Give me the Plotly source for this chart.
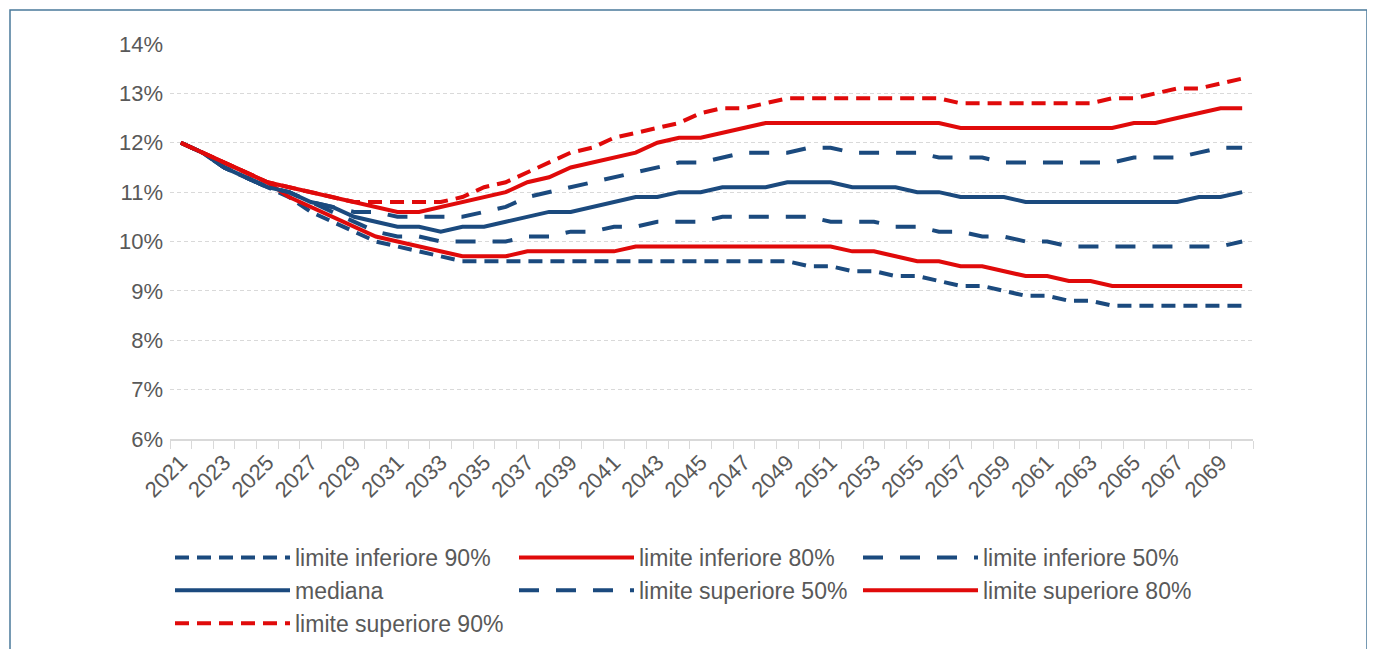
import plotly.graph_objects as go

years = list(range(2021, 2071))
tick_years = list(range(2021, 2070, 2))
y_ticks = [6, 7, 8, 9, 10, 11, 12, 13, 14]

limite_inferiore_90 = [12.0, 11.8, 11.5, 11.3, 11.1, 10.9, 10.6, 10.4, 10.2, 10.0, 9.9, 9.8, 9.7, 9.6, 9.6,
                       9.6, 9.6, 9.6, 9.6, 9.6, 9.6, 9.6, 9.6, 9.6, 9.6, 9.6, 9.6, 9.6, 9.6,
                       9.5, 9.5, 9.4, 9.4, 9.3, 9.3, 9.2, 9.1, 9.1, 9.0, 8.9, 8.9, 8.8, 8.8,
                       8.7, 8.7, 8.7, 8.7, 8.7, 8.7, 8.7]
limite_inferiore_80 = [12.0, 11.8, 11.6, 11.4, 11.2, 10.9, 10.7, 10.5, 10.3, 10.1, 10.0, 9.9, 9.8, 9.7, 9.7,
                       9.7, 9.8, 9.8, 9.8, 9.8, 9.8,
                       9.9, 9.9, 9.9, 9.9, 9.9, 9.9, 9.9, 9.9, 9.9, 9.9,
                       9.8, 9.8, 9.7, 9.6, 9.6, 9.5, 9.5, 9.4, 9.3, 9.3, 9.2, 9.2,
                       9.1, 9.1, 9.1, 9.1, 9.1, 9.1, 9.1]
limite_inferiore_50 = [12.0, 11.8, 11.5, 11.3, 11.1, 11.0, 10.8, 10.6, 10.4, 10.2, 10.1, 10.1, 10.0, 10.0, 10.0,
                       10.0, 10.1, 10.1, 10.2, 10.2, 10.3, 10.3, 10.4, 10.4, 10.4, 10.5, 10.5, 10.5, 10.5, 10.5,
                       10.4, 10.4, 10.4, 10.3, 10.3, 10.2, 10.2, 10.1, 10.1, 10.0, 10.0,
                       9.9, 9.9, 9.9, 9.9, 9.9, 9.9, 9.9, 9.9, 10.0]
mediana = [12.0, 11.8, 11.5, 11.3, 11.1, 11.0, 10.8, 10.7, 10.5, 10.4, 10.3, 10.3, 10.2, 10.3, 10.3,
           10.4, 10.5, 10.6, 10.6, 10.7, 10.8, 10.9, 10.9, 11.0, 11.0, 11.1, 11.1, 11.1, 11.2, 11.2,
           11.2, 11.1, 11.1, 11.1, 11.0, 11.0, 10.9, 10.9, 10.9,
           10.8, 10.8, 10.8, 10.8, 10.8, 10.8, 10.8, 10.8, 10.9, 10.9, 11.0]
limite_superiore_50 = [12.0, 11.8, 11.5, 11.3, 11.1, 11.0, 10.8, 10.7, 10.6, 10.6, 10.5, 10.5, 10.5, 10.5, 10.6,
                       10.7, 10.9, 11.0, 11.1, 11.2, 11.3, 11.4, 11.5, 11.6, 11.6, 11.7, 11.8, 11.8, 11.8,
                       11.9, 11.9, 11.8, 11.8, 11.8, 11.8, 11.7, 11.7, 11.7,
                       11.6, 11.6, 11.6, 11.6, 11.6, 11.6,
                       11.7, 11.7, 11.7, 11.8, 11.9, 11.9]
limite_superiore_80 = [12.0, 11.8, 11.6, 11.4, 11.2, 11.1, 11.0, 10.9, 10.8, 10.7, 10.6, 10.6, 10.7, 10.8, 10.9,
                       11.0, 11.2, 11.3, 11.5, 11.6, 11.7, 11.8, 12.0, 12.1, 12.1, 12.2, 12.3,
                       12.4, 12.4, 12.4, 12.4, 12.4, 12.4, 12.4, 12.4, 12.4,
                       12.3, 12.3, 12.3, 12.3, 12.3, 12.3, 12.3, 12.3,
                       12.4, 12.4, 12.5, 12.6, 12.7, 12.7]
limite_superiore_90 = [12.0, 11.8, 11.6, 11.4, 11.2, 11.1, 11.0, 10.9, 10.8, 10.8, 10.8, 10.8, 10.8, 10.9, 11.1,
                       11.2, 11.4, 11.6, 11.8, 11.9, 12.1, 12.2, 12.3, 12.4, 12.6, 12.7, 12.7, 12.8,
                       12.9, 12.9, 12.9, 12.9, 12.9, 12.9, 12.9, 12.9,
                       12.8, 12.8, 12.8, 12.8, 12.8, 12.8, 12.8,
                       12.9, 12.9, 13.0, 13.1, 13.1, 13.2, 13.3]

BLUE = "#1B4A7E"
RED = "#E00A0A"
GREY = "#595959"
SHORT = "14px,8px"
LONG = "20px,17px"
FONT = "Liberation Sans, Arial, sans-serif"

series = [
    ("limite inferiore 90%", limite_inferiore_90, BLUE, SHORT),
    ("limite inferiore 80%", limite_inferiore_80, RED, "solid"),
    ("limite inferiore 50%", limite_inferiore_50, BLUE, LONG),
    ("mediana", mediana, BLUE, "solid"),
    ("limite superiore 50%", limite_superiore_50, BLUE, LONG),
    ("limite superiore 80%", limite_superiore_80, RED, "solid"),
    ("limite superiore 90%", limite_superiore_90, RED, SHORT),
]

fig = go.Figure()
for name, vals, color, dash in series:
    fig.add_trace(go.Scatter(x=years, y=vals, name=name, mode="lines",
                             line=dict(color=color, width=4, dash=dash)))

# page has an 8px body margin, so figure coordinates = page coordinates - 8
OFF = 8
W, H = 1375, 649
L, R, T, B = 170 - OFF, 122 + OFF, 44 - OFF, 210 + OFF
pw, ph = W - L - R, H - T - B


def px_x(p):
    return (p - OFF - L) / pw


def px_y(p):
    return (H - B - (p - OFF)) / ph


fig.update_layout(
    width=W, height=H,
    margin=dict(l=L, r=R, t=T, b=B, autoexpand=False),
    paper_bgcolor="white", plot_bgcolor="white",
    font=dict(family=FONT, size=22, color=GREY),
    showlegend=True,
    legend=dict(orientation="h", x=0, xanchor="left", y=px_y(536), yanchor="top",
                itemwidth=115, entrywidth=214, font=dict(size=23, color=GREY),
                bgcolor="rgba(0,0,0,0)", borderwidth=0, traceorder="normal"),
    xaxis=dict(range=[2020.5, 2070.5], tickmode="array", tickvals=tick_years,
               ticktext=[str(y) for y in tick_years], tickangle=-45,
               showgrid=False, zeroline=False, showline=True, linecolor="#D9D9D9", linewidth=2,
               ticks="", tickfont=dict(size=22, color=GREY),
               minor=dict(ticks="outside", tick0=2020.5, dtick=1, ticklen=8,
                          tickcolor="#D9D9D9", tickwidth=1, showgrid=False)),
    yaxis=dict(range=[6, 14], tickmode="array", tickvals=y_ticks,
               ticktext=[f"{v}%" for v in y_ticks], showgrid=True, gridcolor="#D9D9D9",
               griddash="4px,3px", gridwidth=1, zeroline=False, showline=False,
               ticks="", ticklabelstandoff=6, tickfont=dict(size=22, color=GREY)),
    shapes=[dict(type="rect", xref="paper", yref="paper",
                 x0=px_x(10), x1=px_x(1367), y0=px_y(665), y1=px_y(10),
                 line=dict(color="#4A7A9B", width=1.5), fillcolor="rgba(0,0,0,0)", layer="below")],
)

fig.write_html("out.html")
